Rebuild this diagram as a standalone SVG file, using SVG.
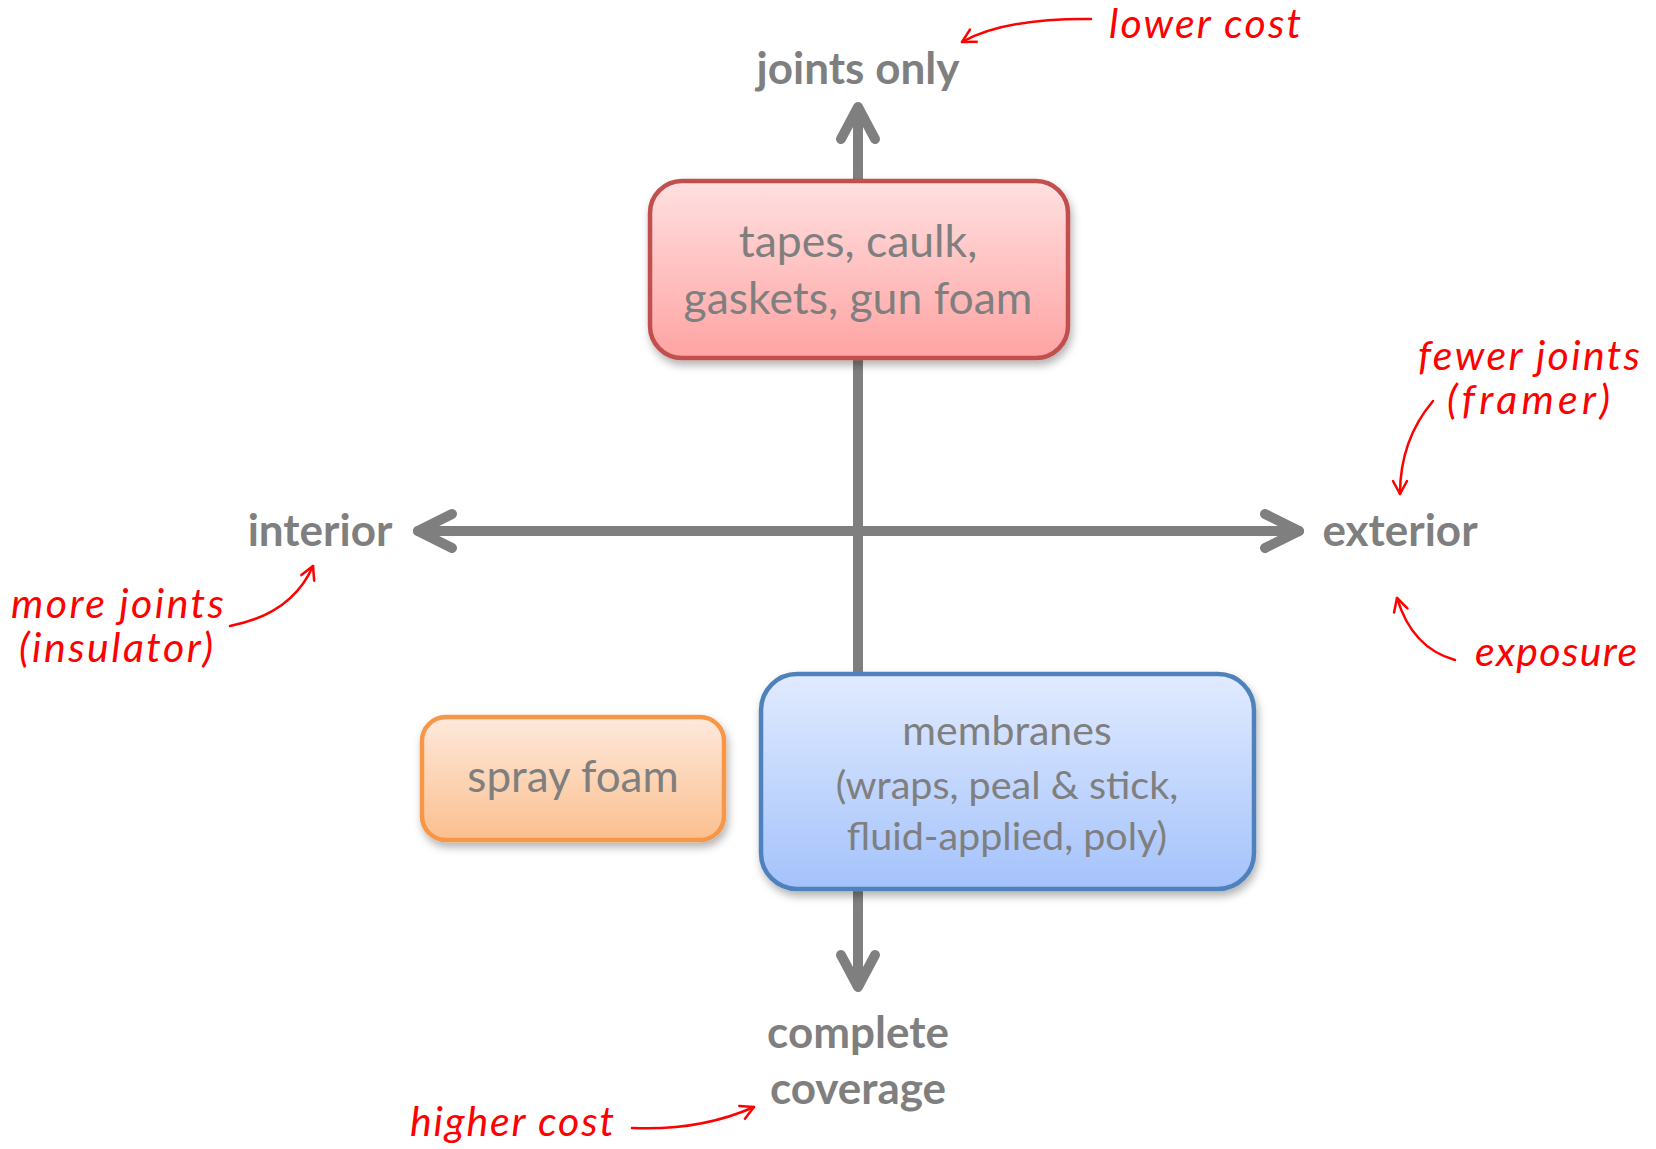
<svg xmlns="http://www.w3.org/2000/svg" width="1656" height="1149" viewBox="0 0 1656 1149">
<style>
.ax{stroke:#7f7f7f;stroke-width:10;fill:none;stroke-linecap:round;stroke-linejoin:round}
.lbl{font-family:Lato,"Open Sans",sans-serif;font-weight:bold;fill:#7f7f7f;text-anchor:middle}
.bt{font-family:Lato,"Open Sans",sans-serif;fill:#7f7f7f;text-anchor:middle}
.note{font-family:Lato,"Noto Sans",sans-serif;font-style:italic;fill:#ff0000;font-size:41px}
.ra{stroke:#ff0000;stroke-width:2.5;fill:none;stroke-linecap:round}
</style>
<defs>
<linearGradient id="gr" x1="0" y1="0" x2="0" y2="1"><stop offset="0" stop-color="#ffe0e0"/><stop offset="1" stop-color="#ffa3a3"/></linearGradient>
<linearGradient id="gb" x1="0" y1="0" x2="0" y2="1"><stop offset="0" stop-color="#e1ebff"/><stop offset="1" stop-color="#a4c2fb"/></linearGradient>
<linearGradient id="go" x1="0" y1="0" x2="0" y2="1"><stop offset="0" stop-color="#fee9dc"/><stop offset="1" stop-color="#fbbf8f"/></linearGradient>
<filter id="sh" x="-10%" y="-10%" width="120%" height="130%"><feDropShadow dx="2" dy="5" stdDeviation="4" flood-color="#000" flood-opacity="0.3"/></filter>
<marker id="ah" viewBox="-16 -10 20 20" refX="0" refY="0" markerWidth="20" markerHeight="20" markerUnits="userSpaceOnUse" orient="auto">
<path d="M-13,-7 L0,0 L-13,7" fill="none" stroke="#ff0000" stroke-width="2.5" stroke-linecap="round" stroke-linejoin="round"/>
</marker>
</defs>
<rect width="1656" height="1149" fill="#fff"/>
<g id="connectors">
<path class="ax" d="M858,108 V986"/>
<path class="ax" d="M841,139 L858,107 L875,139"/>
<path class="ax" d="M841,955 L858,987 L875,955"/>
<path class="ax" d="M418,531 H1299"/>
<path class="ax" d="M452,514 L418,531 L452,548"/>
<path class="ax" d="M1265,514 L1299,531 L1265,548"/>
<path class="ra" marker-end="url(#ah)" d="M1091,19 Q1005,18 962,42"/>
<path class="ra" marker-end="url(#ah)" d="M1433,401 Q1400,440 1400,494"/>
<path class="ra" marker-end="url(#ah)" d="M230,626 Q292,614 313,566"/>
<path class="ra" marker-end="url(#ah)" d="M1455,660 Q1412,648 1397,598"/>
<path class="ra" marker-end="url(#ah)" d="M632,1128 Q700,1131 754,1107"/>
</g>
<g id="node-tapes">
<rect x="650" y="181" width="418" height="177" rx="32" fill="url(#gr)" stroke="#c0504d" stroke-width="4.5" filter="url(#sh)"/>
<text class="bt" x="858" y="257" font-size="44.5">tapes, caulk,</text>
<text class="bt" x="858" y="314" font-size="44.5">gaskets, gun foam</text>
</g>
<g id="node-spray">
<rect x="422" y="717" width="302" height="123" rx="24" fill="url(#go)" stroke="#f79646" stroke-width="4.5" filter="url(#sh)"/>
<text class="bt" x="573" y="792" font-size="44">spray foam</text>
</g>
<g id="node-membranes">
<rect x="761" y="674" width="493" height="215" rx="36" fill="url(#gb)" stroke="#4f81bd" stroke-width="4.5" filter="url(#sh)"/>
<text class="bt" x="1007" y="745" font-size="41">membranes</text>
<text class="bt" x="1007" y="799" font-size="39.5">(wraps, peal &amp; stick,</text>
<text class="bt" x="1007" y="850" font-size="39.5">fluid-applied, poly)</text>
</g>
<g id="labels">
<text class="lbl" x="858" y="84" font-size="44">joints only</text>
<text class="lbl" x="320" y="546" font-size="44">interior</text>
<text class="lbl" x="1400" y="546" font-size="44">exterior</text>
<text class="lbl" x="858" y="1048" font-size="44">complete</text>
<text class="lbl" x="858" y="1104" font-size="44">coverage</text>
</g>
<g id="notes">
<text class="note" x="1109" y="38" textLength="192">lower cost</text>
<text class="note" x="1418" y="370" textLength="222">fewer joints</text>
<text class="note" x="1447" y="414" textLength="163">(framer)</text>
<text class="note" x="11" y="618" textLength="213">more joints</text>
<text class="note" x="19" y="662" textLength="194">(insulator)</text>
<text class="note" x="1475" y="666" textLength="162">exposure</text>
<text class="note" x="410" y="1136" textLength="204">higher cost</text>
</g>
</svg>
